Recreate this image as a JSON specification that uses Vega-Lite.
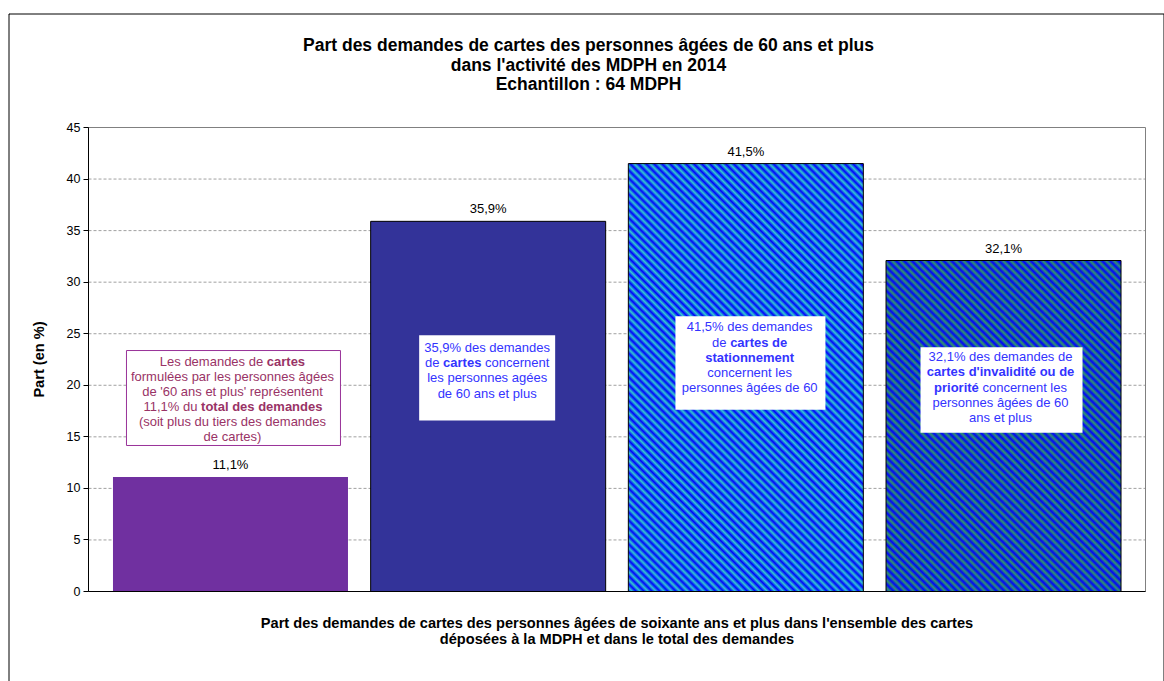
{
"$schema": "https://vega.github.io/schema/vega-lite/v6.json",
"width": 1155,
"height": 667,
"autosize": "none",
"padding": {"left": 8.5, "top": 13.5, "right": 0.5, "bottom": 0.5},
"background": "white",
"title": {"text": ["Part des demandes de cartes des personnes âgées de 60 ans et plus", "dans l'activité des MDPH en 2014", "Echantillon : 64 MDPH"], "fontSize": 17.5, "fontWeight": "bold", "font": "Liberation Sans", "color": "black", "lineHeight": 19.5, "anchor": "middle", "frame": "group", "offset": -98, "baseline": "bottom", "dx": 2.5},
"datasets": {
"bars": [
{"cat": "Total des demandes", "value": 11.1, "label": "11,1%"},
{"cat": "Ensemble des cartes", "value": 35.9, "label": "35,9%"},
{"cat": "Cartes de stationnement", "value": 41.5, "label": "41,5%"},
{"cat": "Cartes d'invalidité ou de priorité", "value": 32.1, "label": "32,1%"}
],
"grid": [{"value": 5}, {"value": 10}, {"value": 15}, {"value": 20}, {"value": 25}, {"value": 30}, {"value": 35}, {"value": 40}],
"notes": [
{"cat": "Total des demandes", "y": 20.78, "text": "formulées par les personnes âgées"},
{"cat": "Total des demandes", "y": 19.33, "text": "de '60 ans et plus' représentent"},
{"cat": "Total des demandes", "y": 16.42, "text": "(soit plus du tiers des demandes"},
{"cat": "Total des demandes", "y": 14.94, "text": "de cartes)"},
{"cat": "Ensemble des cartes", "y": 23.63, "text": "35,9% des demandes"},
{"cat": "Ensemble des cartes", "y": 20.75, "text": "les personnes agées"},
{"cat": "Ensemble des cartes", "y": 19.17, "text": "de 60 ans et plus"},
{"cat": "Cartes de stationnement", "y": 25.63, "text": "41,5% des demandes"},
{"cat": "Cartes de stationnement", "y": 21.21, "text": "concernent les"},
{"cat": "Cartes de stationnement", "y": 19.76, "text": "personnes âgées de 60"},
{"cat": "Cartes d'invalidité ou de priorité", "y": 22.72, "text": "32,1% des demandes de"},
{"cat": "Cartes d'invalidité ou de priorité", "y": 18.26, "text": "personnes âgées de 60"},
{"cat": "Cartes d'invalidité ou de priorité", "y": 16.85, "text": "ans et plus"}
]
},
"layer": [
{"layer": [
{"data": {"name": "grid"}, "mark": {"type": "rule", "stroke": "#a0a0a0", "strokeWidth": 1, "strokeDash": [3, 2]},
 "encoding": {"x": {"datum": 0, "type": "quantitative", "scale": {"domain": [0, 1], "range": [80, 1137]}, "axis": null}, "x2": {"datum": 1}, "y": {"field": "value", "type": "quantitative"}}},
{"data": {"values": [{}]}, "mark": {"type": "rect", "fill": "transparent", "stroke": "#808080", "strokeWidth": 1},
 "encoding": {"x": {"datum": 0, "type": "quantitative", "axis": null}, "x2": {"datum": 1}, "y": {"datum": 45, "type": "quantitative"}, "y2": {"datum": 0}}}
]},
{"layer": [
{"data": {"name": "bars"}, "transform": [{"filter": {"field": "cat", "equal": "Total des demandes"}}],
 "mark": {"type": "bar", "fill": "#7030a0"},
 "encoding": {
  "x": {"field": "cat", "type": "nominal", "scale": {"domain": ["Total des demandes", "Ensemble des cartes", "Cartes de stationnement", "Cartes d'invalidité ou de priorité"], "range": [80, 1137], "paddingInner": 0.088, "paddingOuter": 0.095},
   "axis": {"orient": "bottom", "offset": -89, "labels": false, "ticks": false, "domainColor": "black", "title": ["Part des demandes de cartes des personnes âgées de soixante ans et plus dans l'ensemble des cartes", "déposées à la MDPH et dans le total des demandes"], "titleFontSize": 14.6, "titleFontWeight": "bold", "titleColor": "black", "titleLineHeight": 16, "titlePadding": 24, "zindex": 1}},
  "y": {"field": "value", "type": "quantitative", "scale": {"domain": [0, 45], "range": [578, 114], "nice": false},
   "axis": {"values": [0, 5, 10, 15, 20, 25, 30, 35, 40, 45], "offset": -80, "tickSize": 5, "tickColor": "black", "domainColor": "black", "labelColor": "black", "labelFontSize": 12.5, "labelPadding": 3, "title": "Part (en %)", "titleFontSize": 14.6, "titleFontWeight": "bold", "titleColor": "black", "titlePadding": 20, "grid": false, "zindex": 1}}
 }},
{"data": {"name": "bars"}, "transform": [{"filter": {"field": "cat", "equal": "Ensemble des cartes"}}],
 "mark": {"type": "bar", "fill": "#333399", "stroke": "black", "strokeWidth": 1},
 "encoding": {"x": {"field": "cat", "type": "nominal"}, "y": {"field": "value", "type": "quantitative"}}},
{"data": {"name": "bars"}, "transform": [{"filter": {"field": "cat", "equal": "Cartes de stationnement"}}],
 "mark": {"type": "bar", "stroke": "black", "strokeWidth": 1, "fill": {"gradient": "linear", "x1": 0, "y1": 1, "x2": 0.6537, "y2": -0.1902, "stops": [
{"offset":0,"color":"#00f"},{"offset":0.006,"color":"#3cc"},{"offset":0.012,"color":"#00f"},{"offset":0.018,"color":"#3cc"},{"offset":0.024,"color":"#00f"},{"offset":0.03,"color":"#3cc"},{"offset":0.036,"color":"#00f"},{"offset":0.042,"color":"#3cc"},{"offset":0.048,"color":"#00f"},{"offset":0.054,"color":"#3cc"},
{"offset":0.06,"color":"#00f"},{"offset":0.066,"color":"#3cc"},{"offset":0.072,"color":"#00f"},{"offset":0.078,"color":"#3cc"},{"offset":0.084,"color":"#00f"},{"offset":0.09,"color":"#3cc"},{"offset":0.096,"color":"#00f"},{"offset":0.102,"color":"#3cc"},{"offset":0.108,"color":"#00f"},{"offset":0.114,"color":"#3cc"},
{"offset":0.12,"color":"#00f"},{"offset":0.126,"color":"#3cc"},{"offset":0.132,"color":"#00f"},{"offset":0.138,"color":"#3cc"},{"offset":0.144,"color":"#00f"},{"offset":0.15,"color":"#3cc"},{"offset":0.156,"color":"#00f"},{"offset":0.162,"color":"#3cc"},{"offset":0.168,"color":"#00f"},{"offset":0.174,"color":"#3cc"},
{"offset":0.18,"color":"#00f"},{"offset":0.186,"color":"#3cc"},{"offset":0.192,"color":"#00f"},{"offset":0.198,"color":"#3cc"},{"offset":0.204,"color":"#00f"},{"offset":0.21,"color":"#3cc"},{"offset":0.216,"color":"#00f"},{"offset":0.222,"color":"#3cc"},{"offset":0.228,"color":"#00f"},{"offset":0.234,"color":"#3cc"},
{"offset":0.24,"color":"#00f"},{"offset":0.246,"color":"#3cc"},{"offset":0.252,"color":"#00f"},{"offset":0.258,"color":"#3cc"},{"offset":0.264,"color":"#00f"},{"offset":0.27,"color":"#3cc"},{"offset":0.276,"color":"#00f"},{"offset":0.282,"color":"#3cc"},{"offset":0.288,"color":"#00f"},{"offset":0.294,"color":"#3cc"},
{"offset":0.3,"color":"#00f"},{"offset":0.306,"color":"#3cc"},{"offset":0.312,"color":"#00f"},{"offset":0.318,"color":"#3cc"},{"offset":0.324,"color":"#00f"},{"offset":0.33,"color":"#3cc"},{"offset":0.336,"color":"#00f"},{"offset":0.342,"color":"#3cc"},{"offset":0.348,"color":"#00f"},{"offset":0.354,"color":"#3cc"},
{"offset":0.36,"color":"#00f"},{"offset":0.366,"color":"#3cc"},{"offset":0.372,"color":"#00f"},{"offset":0.378,"color":"#3cc"},{"offset":0.384,"color":"#00f"},{"offset":0.39,"color":"#3cc"},{"offset":0.396,"color":"#00f"},{"offset":0.402,"color":"#3cc"},{"offset":0.408,"color":"#00f"},{"offset":0.414,"color":"#3cc"},
{"offset":0.42,"color":"#00f"},{"offset":0.426,"color":"#3cc"},{"offset":0.432,"color":"#00f"},{"offset":0.438,"color":"#3cc"},{"offset":0.444,"color":"#00f"},{"offset":0.45,"color":"#3cc"},{"offset":0.456,"color":"#00f"},{"offset":0.462,"color":"#3cc"},{"offset":0.468,"color":"#00f"},{"offset":0.474,"color":"#3cc"},
{"offset":0.48,"color":"#00f"},{"offset":0.486,"color":"#3cc"},{"offset":0.492,"color":"#00f"},{"offset":0.498,"color":"#3cc"},{"offset":0.504,"color":"#00f"},{"offset":0.51,"color":"#3cc"},{"offset":0.516,"color":"#00f"},{"offset":0.522,"color":"#3cc"},{"offset":0.528,"color":"#00f"},{"offset":0.534,"color":"#3cc"},
{"offset":0.54,"color":"#00f"},{"offset":0.546,"color":"#3cc"},{"offset":0.552,"color":"#00f"},{"offset":0.558,"color":"#3cc"},{"offset":0.564,"color":"#00f"},{"offset":0.57,"color":"#3cc"},{"offset":0.576,"color":"#00f"},{"offset":0.582,"color":"#3cc"},{"offset":0.588,"color":"#00f"},{"offset":0.594,"color":"#3cc"},
{"offset":0.6,"color":"#00f"},{"offset":0.606,"color":"#3cc"},{"offset":0.612,"color":"#00f"},{"offset":0.618,"color":"#3cc"},{"offset":0.624,"color":"#00f"},{"offset":0.63,"color":"#3cc"},{"offset":0.636,"color":"#00f"},{"offset":0.642,"color":"#3cc"},{"offset":0.648,"color":"#00f"},{"offset":0.654,"color":"#3cc"},
{"offset":0.66,"color":"#00f"},{"offset":0.666,"color":"#3cc"},{"offset":0.672,"color":"#00f"},{"offset":0.678,"color":"#3cc"},{"offset":0.684,"color":"#00f"},{"offset":0.69,"color":"#3cc"},{"offset":0.696,"color":"#00f"},{"offset":0.702,"color":"#3cc"},{"offset":0.708,"color":"#00f"},{"offset":0.714,"color":"#3cc"},
{"offset":0.72,"color":"#00f"},{"offset":0.726,"color":"#3cc"},{"offset":0.732,"color":"#00f"},{"offset":0.738,"color":"#3cc"},{"offset":0.744,"color":"#00f"},{"offset":0.75,"color":"#3cc"},{"offset":0.756,"color":"#00f"},{"offset":0.762,"color":"#3cc"},{"offset":0.768,"color":"#00f"},{"offset":0.774,"color":"#3cc"},
{"offset":0.78,"color":"#00f"},{"offset":0.786,"color":"#3cc"},{"offset":0.792,"color":"#00f"},{"offset":0.798,"color":"#3cc"},{"offset":0.804,"color":"#00f"},{"offset":0.81,"color":"#3cc"},{"offset":0.816,"color":"#00f"},{"offset":0.822,"color":"#3cc"},{"offset":0.828,"color":"#00f"},{"offset":0.834,"color":"#3cc"},
{"offset":0.84,"color":"#00f"},{"offset":0.846,"color":"#3cc"},{"offset":0.852,"color":"#00f"},{"offset":0.858,"color":"#3cc"},{"offset":0.864,"color":"#00f"},{"offset":0.87,"color":"#3cc"},{"offset":0.876,"color":"#00f"},{"offset":0.882,"color":"#3cc"},{"offset":0.888,"color":"#00f"},{"offset":0.894,"color":"#3cc"},
{"offset":0.9,"color":"#00f"},{"offset":0.906,"color":"#3cc"},{"offset":0.912,"color":"#00f"},{"offset":0.918,"color":"#3cc"},{"offset":0.924,"color":"#00f"},{"offset":0.93,"color":"#3cc"},{"offset":0.936,"color":"#00f"},{"offset":0.942,"color":"#3cc"},{"offset":0.948,"color":"#00f"},{"offset":0.954,"color":"#3cc"},
{"offset":0.96,"color":"#00f"},{"offset":0.966,"color":"#3cc"},{"offset":0.972,"color":"#00f"},{"offset":0.978,"color":"#3cc"},{"offset":0.984,"color":"#00f"},{"offset":0.99,"color":"#3cc"},{"offset":0.996,"color":"#00f"}
 ]}},
 "encoding": {"x": {"field": "cat", "type": "nominal"}, "y": {"field": "value", "type": "quantitative"}}},
{"data": {"name": "bars"}, "transform": [{"filter": {"field": "cat", "equal": "Cartes d'invalidité ou de priorité"}}],
 "mark": {"type": "bar", "stroke": "black", "strokeWidth": 1, "fill": {"gradient": "linear", "x1": 0, "y1": 1, "x2": 0.8072, "y2": -0.1369, "stops": [
{"offset":0,"color":"#00f"},{"offset":0.007,"color":"#396"},{"offset":0.014,"color":"#00f"},{"offset":0.021,"color":"#396"},{"offset":0.028,"color":"#00f"},{"offset":0.035,"color":"#396"},{"offset":0.042,"color":"#00f"},{"offset":0.049,"color":"#396"},{"offset":0.056,"color":"#00f"},{"offset":0.063,"color":"#396"},
{"offset":0.07,"color":"#00f"},{"offset":0.077,"color":"#396"},{"offset":0.084,"color":"#00f"},{"offset":0.091,"color":"#396"},{"offset":0.098,"color":"#00f"},{"offset":0.105,"color":"#396"},{"offset":0.112,"color":"#00f"},{"offset":0.119,"color":"#396"},{"offset":0.126,"color":"#00f"},{"offset":0.133,"color":"#396"},
{"offset":0.14,"color":"#00f"},{"offset":0.147,"color":"#396"},{"offset":0.154,"color":"#00f"},{"offset":0.161,"color":"#396"},{"offset":0.168,"color":"#00f"},{"offset":0.175,"color":"#396"},{"offset":0.182,"color":"#00f"},{"offset":0.189,"color":"#396"},{"offset":0.196,"color":"#00f"},{"offset":0.203,"color":"#396"},
{"offset":0.21,"color":"#00f"},{"offset":0.217,"color":"#396"},{"offset":0.224,"color":"#00f"},{"offset":0.231,"color":"#396"},{"offset":0.238,"color":"#00f"},{"offset":0.245,"color":"#396"},{"offset":0.252,"color":"#00f"},{"offset":0.259,"color":"#396"},{"offset":0.266,"color":"#00f"},{"offset":0.273,"color":"#396"},
{"offset":0.28,"color":"#00f"},{"offset":0.287,"color":"#396"},{"offset":0.294,"color":"#00f"},{"offset":0.301,"color":"#396"},{"offset":0.308,"color":"#00f"},{"offset":0.315,"color":"#396"},{"offset":0.322,"color":"#00f"},{"offset":0.329,"color":"#396"},{"offset":0.336,"color":"#00f"},{"offset":0.343,"color":"#396"},
{"offset":0.35,"color":"#00f"},{"offset":0.357,"color":"#396"},{"offset":0.364,"color":"#00f"},{"offset":0.371,"color":"#396"},{"offset":0.378,"color":"#00f"},{"offset":0.385,"color":"#396"},{"offset":0.392,"color":"#00f"},{"offset":0.399,"color":"#396"},{"offset":0.406,"color":"#00f"},{"offset":0.413,"color":"#396"},
{"offset":0.42,"color":"#00f"},{"offset":0.427,"color":"#396"},{"offset":0.434,"color":"#00f"},{"offset":0.441,"color":"#396"},{"offset":0.448,"color":"#00f"},{"offset":0.455,"color":"#396"},{"offset":0.462,"color":"#00f"},{"offset":0.469,"color":"#396"},{"offset":0.476,"color":"#00f"},{"offset":0.483,"color":"#396"},
{"offset":0.49,"color":"#00f"},{"offset":0.497,"color":"#396"},{"offset":0.504,"color":"#00f"},{"offset":0.511,"color":"#396"},{"offset":0.518,"color":"#00f"},{"offset":0.525,"color":"#396"},{"offset":0.532,"color":"#00f"},{"offset":0.539,"color":"#396"},{"offset":0.546,"color":"#00f"},{"offset":0.553,"color":"#396"},
{"offset":0.56,"color":"#00f"},{"offset":0.567,"color":"#396"},{"offset":0.574,"color":"#00f"},{"offset":0.581,"color":"#396"},{"offset":0.588,"color":"#00f"},{"offset":0.595,"color":"#396"},{"offset":0.602,"color":"#00f"},{"offset":0.609,"color":"#396"},{"offset":0.616,"color":"#00f"},{"offset":0.623,"color":"#396"},
{"offset":0.63,"color":"#00f"},{"offset":0.637,"color":"#396"},{"offset":0.644,"color":"#00f"},{"offset":0.651,"color":"#396"},{"offset":0.658,"color":"#00f"},{"offset":0.665,"color":"#396"},{"offset":0.672,"color":"#00f"},{"offset":0.679,"color":"#396"},{"offset":0.686,"color":"#00f"},{"offset":0.693,"color":"#396"},
{"offset":0.7,"color":"#00f"},{"offset":0.707,"color":"#396"},{"offset":0.714,"color":"#00f"},{"offset":0.721,"color":"#396"},{"offset":0.728,"color":"#00f"},{"offset":0.735,"color":"#396"},{"offset":0.742,"color":"#00f"},{"offset":0.749,"color":"#396"},{"offset":0.756,"color":"#00f"},{"offset":0.763,"color":"#396"},
{"offset":0.77,"color":"#00f"},{"offset":0.777,"color":"#396"},{"offset":0.784,"color":"#00f"},{"offset":0.791,"color":"#396"},{"offset":0.798,"color":"#00f"},{"offset":0.805,"color":"#396"},{"offset":0.812,"color":"#00f"},{"offset":0.819,"color":"#396"},{"offset":0.826,"color":"#00f"},{"offset":0.833,"color":"#396"},
{"offset":0.84,"color":"#00f"},{"offset":0.847,"color":"#396"},{"offset":0.854,"color":"#00f"},{"offset":0.861,"color":"#396"},{"offset":0.868,"color":"#00f"},{"offset":0.875,"color":"#396"},{"offset":0.882,"color":"#00f"},{"offset":0.889,"color":"#396"},{"offset":0.896,"color":"#00f"},{"offset":0.903,"color":"#396"},
{"offset":0.91,"color":"#00f"},{"offset":0.917,"color":"#396"},{"offset":0.924,"color":"#00f"},{"offset":0.931,"color":"#396"},{"offset":0.938,"color":"#00f"},{"offset":0.945,"color":"#396"},{"offset":0.952,"color":"#00f"},{"offset":0.959,"color":"#396"},{"offset":0.966,"color":"#00f"},{"offset":0.973,"color":"#396"},
{"offset":0.98,"color":"#00f"},{"offset":0.987,"color":"#396"},{"offset":0.994,"color":"#00f"}
 ]}},
 "encoding": {"x": {"field": "cat", "type": "nominal"}, "y": {"field": "value", "type": "quantitative"}}},
{"data": {"name": "bars"}, "mark": {"type": "text", "fontSize": 13, "dy": -12, "color": "black", "baseline": "middle"},
 "encoding": {"x": {"field": "cat", "type": "nominal"}, "y": {"field": "value", "type": "quantitative"}, "text": {"field": "label"}}},
{"data": {"values": [{}]}, "mark": {"type": "bar", "width": 214, "xOffset": 3, "fill": "white", "stroke": "#993399", "strokeWidth": 1},
 "encoding": {"x": {"datum": "Total des demandes", "type": "nominal"}, "y": {"datum": 23.37, "type": "quantitative"}, "y2": {"datum": 14.16}}},
{"data": {"values": [{}]}, "mark": {"type": "bar", "width": 136, "xOffset": -1, "fill": "white"},
 "encoding": {"x": {"datum": "Ensemble des cartes", "type": "nominal"}, "y": {"datum": 24.85, "type": "quantitative"}, "y2": {"datum": 16.58}}},
{"data": {"values": [{}]}, "mark": {"type": "bar", "width": 150, "xOffset": 4.6, "fill": "white"},
 "encoding": {"x": {"datum": "Cartes de stationnement", "type": "nominal"}, "y": {"datum": 26.7, "type": "quantitative"}, "y2": {"datum": 17.62}}},
{"data": {"values": [{}]}, "mark": {"type": "bar", "width": 162, "xOffset": -2, "fill": "white"},
 "encoding": {"x": {"datum": "Cartes d'invalidité ou de priorité", "type": "nominal"}, "y": {"datum": 23.69, "type": "quantitative"}, "y2": {"datum": 15.39}}},
{"data": {"name": "notes"}, "transform": [{"filter": {"field": "cat", "equal": "Total des demandes"}}],
 "mark": {"type": "text", "fontSize": 13, "color": "#993366", "dx": 2, "baseline": "middle"},
 "encoding": {"x": {"field": "cat", "type": "nominal"}, "y": {"field": "y", "type": "quantitative"}, "text": {"field": "text"}}},
{"data": {"name": "notes"}, "transform": [{"filter": {"field": "cat", "equal": "Ensemble des cartes"}}],
 "mark": {"type": "text", "fontSize": 13, "color": "#3333ff", "dx": -1, "baseline": "middle"},
 "encoding": {"x": {"field": "cat", "type": "nominal"}, "y": {"field": "y", "type": "quantitative"}, "text": {"field": "text"}}},
{"data": {"name": "notes"}, "transform": [{"filter": {"field": "cat", "equal": "Cartes de stationnement"}}],
 "mark": {"type": "text", "fontSize": 13, "color": "#3333ff", "dx": 3.8, "baseline": "middle"},
 "encoding": {"x": {"field": "cat", "type": "nominal"}, "y": {"field": "y", "type": "quantitative"}, "text": {"field": "text"}}},
{"data": {"name": "notes"}, "transform": [{"filter": {"field": "cat", "equal": "Cartes d'invalidité ou de priorité"}}],
 "mark": {"type": "text", "fontSize": 13, "color": "#3333ff", "dx": -3, "baseline": "middle"},
 "encoding": {"x": {"field": "cat", "type": "nominal"}, "y": {"field": "y", "type": "quantitative"}, "text": {"field": "text"}}},
{"data": {"values": [{}]}, "mark": {"type": "text", "text": "Les demandes de", "align": "right", "dx": 32.7, "fontSize": 13, "color": "#993366", "baseline": "middle"},
 "encoding": {"x": {"datum": "Total des demandes", "type": "nominal"}, "y": {"datum": 22.21, "type": "quantitative"}}},
{"data": {"values": [{}]}, "mark": {"type": "text", "text": "cartes", "align": "left", "dx": 36.3, "fontSize": 13, "fontWeight": "bold", "color": "#993366", "baseline": "middle"},
 "encoding": {"x": {"datum": "Total des demandes", "type": "nominal"}, "y": {"datum": 22.21, "type": "quantitative"}}},
{"data": {"values": [{}]}, "mark": {"type": "text", "text": "11,1% du", "align": "right", "dx": -33, "fontSize": 13, "color": "#993366", "baseline": "middle"},
 "encoding": {"x": {"datum": "Total des demandes", "type": "nominal"}, "y": {"datum": 17.87, "type": "quantitative"}}},
{"data": {"values": [{}]}, "mark": {"type": "text", "text": "total des demandes", "align": "left", "dx": -29.4, "fontSize": 13, "fontWeight": "bold", "color": "#993366", "baseline": "middle"},
 "encoding": {"x": {"datum": "Total des demandes", "type": "nominal"}, "y": {"datum": 17.87, "type": "quantitative"}}},
{"data": {"values": [{}]}, "mark": {"type": "text", "text": "de", "align": "right", "dx": -48.7, "fontSize": 13, "color": "#3333ff", "baseline": "middle"},
 "encoding": {"x": {"datum": "Ensemble des cartes", "type": "nominal"}, "y": {"datum": 22.18, "type": "quantitative"}}},
{"data": {"values": [{}]}, "mark": {"type": "text", "text": "cartes", "align": "left", "dx": -45.1, "fontSize": 13, "fontWeight": "bold", "color": "#3333ff", "baseline": "middle"},
 "encoding": {"x": {"datum": "Ensemble des cartes", "type": "nominal"}, "y": {"datum": 22.18, "type": "quantitative"}}},
{"data": {"values": [{}]}, "mark": {"type": "text", "text": "concernent", "align": "left", "dx": -3.2, "fontSize": 13, "color": "#3333ff", "baseline": "middle"},
 "encoding": {"x": {"datum": "Ensemble des cartes", "type": "nominal"}, "y": {"datum": 22.18, "type": "quantitative"}}},
{"data": {"values": [{}]}, "mark": {"type": "text", "text": "de", "align": "right", "dx": -19.3, "fontSize": 13, "color": "#3333ff", "baseline": "middle"},
 "encoding": {"x": {"datum": "Cartes de stationnement", "type": "nominal"}, "y": {"datum": 24.12, "type": "quantitative"}}},
{"data": {"values": [{}]}, "mark": {"type": "text", "text": "cartes de", "align": "left", "dx": -15.7, "fontSize": 13, "fontWeight": "bold", "color": "#3333ff", "baseline": "middle"},
 "encoding": {"x": {"datum": "Cartes de stationnement", "type": "nominal"}, "y": {"datum": 24.12, "type": "quantitative"}}},
{"data": {"values": [{}]}, "mark": {"type": "text", "text": "stationnement", "align": "center", "dx": 3.8, "fontSize": 13, "fontWeight": "bold", "color": "#3333ff", "baseline": "middle"},
 "encoding": {"x": {"datum": "Cartes de stationnement", "type": "nominal"}, "y": {"datum": 22.63, "type": "quantitative"}}},
{"data": {"values": [{}]}, "mark": {"type": "text", "text": "cartes d'invalidité ou de", "align": "center", "dx": -3, "fontSize": 13, "fontWeight": "bold", "color": "#3333ff", "baseline": "middle"},
 "encoding": {"x": {"datum": "Cartes d'invalidité ou de priorité", "type": "nominal"}, "y": {"datum": 21.27, "type": "quantitative"}}},
{"data": {"values": [{}]}, "mark": {"type": "text", "text": "priorité", "align": "right", "dx": -24.7, "fontSize": 13, "fontWeight": "bold", "color": "#3333ff", "baseline": "middle"},
 "encoding": {"x": {"datum": "Cartes d'invalidité ou de priorité", "type": "nominal"}, "y": {"datum": 19.72, "type": "quantitative"}}},
{"data": {"values": [{}]}, "mark": {"type": "text", "text": "concernent les", "align": "left", "dx": -21.1, "fontSize": 13, "color": "#3333ff", "baseline": "middle"},
 "encoding": {"x": {"datum": "Cartes d'invalidité ou de priorité", "type": "nominal"}, "y": {"datum": 19.72, "type": "quantitative"}}}
]}
],
"resolve": {"scale": {"x": "independent"}},
"config": {
 "font": "Liberation Sans",
 "view": {"stroke": "black", "strokeWidth": 1, "strokeDash": [1822, 1155, 667]},
 "axis": {"grid": false, "translate": 0, "labelFont": "Liberation Sans", "titleFont": "Liberation Sans"},
 "text": {"font": "Liberation Sans"}
}
}
